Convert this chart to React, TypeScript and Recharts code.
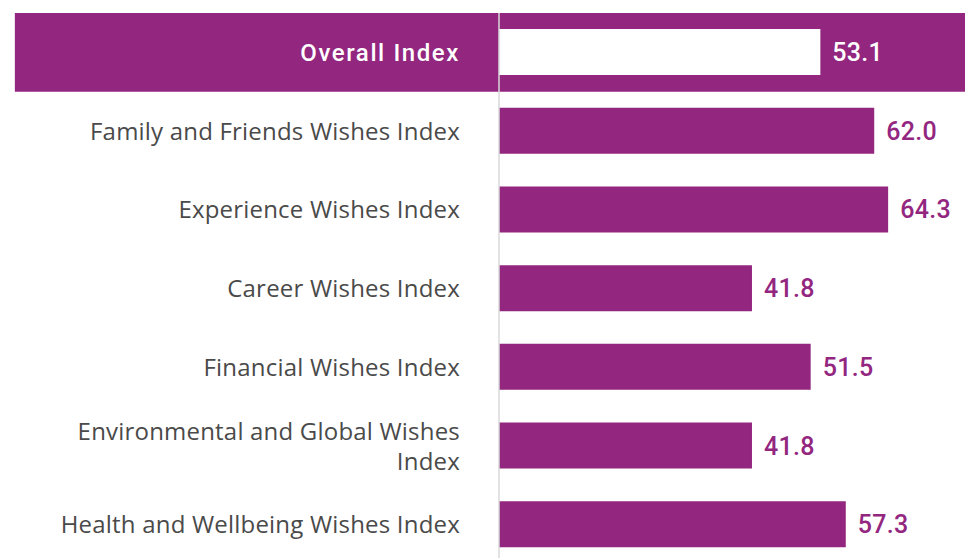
import React from 'react';
import {
  BarChart,
  Bar,
  XAxis,
  YAxis,
  Cell,
  LabelList,
  ReferenceArea,
} from 'recharts';

const categories = [
  'Overall Index',
  'Family and Friends Wishes Index',
  'Experience Wishes Index',
  'Career Wishes Index',
  'Financial Wishes Index',
  'Environmental and Global Wishes Index',
  'Health and Wellbeing Wishes Index',
];

const values = [53.1, 62.0, 64.3, 41.8, 51.5, 41.8, 57.3];

// wrapped lines for the category axis
const tickLines: Record<string, string[]> = {
  'Environmental and Global Wishes Index': ['Environmental and Global Wishes', 'Index'],
};

const PURPLE = '#93267f';
const HIGHLIGHT = 'Overall Index';

const data = categories.map((name, i) => ({ name, value: values[i] }));

const CategoryTick = (props: any) => {
  const { x, y, payload } = props;
  const label: string = payload.value;
  const lines = tickLines[label] || [label];
  const isOverall = label === HIGHLIGHT;
  const lineHeight = 30;
  const start = -((lines.length - 1) * lineHeight) / 2;
  return (
    <g transform={`translate(${x},${y})`}>
      {lines.map((line, i) => (
        <text
          key={i}
          x={0}
          y={start + i * lineHeight}
          dy="0.36em"
          textAnchor="end"
          fill={isOverall ? '#ffffff' : '#4a4a4a'}
          fontFamily={isOverall ? 'Roboto' : 'Open Sans'}
          fontWeight={isOverall ? 500 : 400}
          fontSize={24}
          letterSpacing={isOverall ? 1.6 : 0.2}
        >
          {line}
        </text>
      ))}
    </g>
  );
};

const ValueLabel = (props: any) => {
  const { x, y, width, height, value, index } = props;
  const isOverall = categories[index] === HIGHLIGHT;
  return (
    <text
      x={x + width + 12}
      y={y + height / 2}
      dy="0.36em"
      textAnchor="start"
      fill={isOverall ? '#ffffff' : PURPLE}
      fontFamily="Roboto"
      fontWeight={500}
      fontSize={25}
      letterSpacing={0.3}
    >
      {Number(value).toFixed(1)}
    </text>
  );
};

export default function App() {
  return (
    <div style={{ position: 'absolute', left: 0, top: 0 }}>
      <BarChart
        width={965}
        height={564}
        data={data}
        layout="vertical"
        margin={{ top: 13, right: 0, bottom: 0, left: 0 }}
        barSize={46}
      >
        <XAxis type="number" domain={[0, 77]} hide />
        <YAxis
          type="category"
          dataKey="name"
          width={499}
          tickLine={false}
          tickSize={0}
          tickMargin={39}
          axisLine={{ stroke: '#d9d9d9', strokeWidth: 1.5 }}
          tick={<CategoryTick />}
          interval={0}
        />
        <ReferenceArea
          y1={HIGHLIGHT}
          y2={HIGHLIGHT}
          x1={-80}
          x2={77}
          ifOverflow="visible"
          fill={PURPLE}
          fillOpacity={1}
          stroke="none"
        />
        <Bar dataKey="value" isAnimationActive={false}>
          {data.map((d) => (
            <Cell key={d.name} fill={d.name === HIGHLIGHT ? '#ffffff' : PURPLE} />
          ))}
          <LabelList dataKey="value" content={<ValueLabel />} />
        </Bar>
      </BarChart>
    </div>
  );
}
